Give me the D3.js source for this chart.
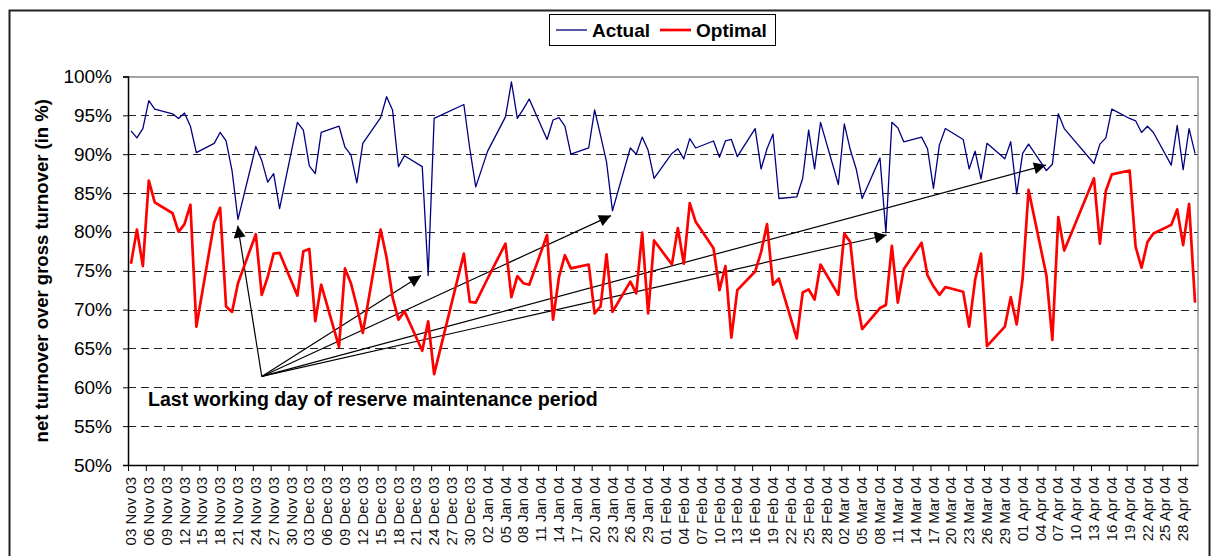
<!DOCTYPE html>
<html>
<head>
<meta charset="utf-8">
<script src="https://cdn.jsdelivr.net/npm/d3@7"></script>
<style>
  body { margin: 0; background: #fff; }
  text { font-family: "Liberation Sans", Arial, sans-serif; }
</style>
</head>
<body>
<script>
// Working days shown in the chart
var dates = [
  "2003-11-03","2003-11-04","2003-11-05","2003-11-06","2003-11-07",
  "2003-11-10","2003-11-11","2003-11-12","2003-11-13","2003-11-14",
  "2003-11-17","2003-11-18","2003-11-19","2003-11-20","2003-11-21",
  "2003-11-24","2003-11-25","2003-11-26","2003-11-27","2003-11-28",
  "2003-12-01","2003-12-02","2003-12-03","2003-12-04","2003-12-05",
  "2003-12-08","2003-12-09","2003-12-10","2003-12-11","2003-12-12",
  "2003-12-15","2003-12-16","2003-12-17","2003-12-18","2003-12-19",
  "2003-12-22","2003-12-23","2003-12-24",
  "2003-12-29","2003-12-30","2003-12-31","2004-01-02",
  "2004-01-05","2004-01-06","2004-01-07","2004-01-08","2004-01-09",
  "2004-01-12","2004-01-13","2004-01-14","2004-01-15","2004-01-16",
  "2004-01-19","2004-01-20","2004-01-21","2004-01-22","2004-01-23",
  "2004-01-26","2004-01-27","2004-01-28","2004-01-29","2004-01-30",
  "2004-02-02","2004-02-03","2004-02-04","2004-02-05","2004-02-06",
  "2004-02-09","2004-02-10","2004-02-11","2004-02-12","2004-02-13",
  "2004-02-16","2004-02-17","2004-02-18","2004-02-19","2004-02-20",
  "2004-02-23","2004-02-24","2004-02-25","2004-02-26","2004-02-27",
  "2004-03-01","2004-03-02","2004-03-03","2004-03-04","2004-03-05",
  "2004-03-08","2004-03-09","2004-03-10","2004-03-11","2004-03-12",
  "2004-03-15","2004-03-16","2004-03-17","2004-03-18","2004-03-19",
  "2004-03-22","2004-03-23","2004-03-24","2004-03-25","2004-03-26",
  "2004-03-29","2004-03-30","2004-03-31","2004-04-01","2004-04-02",
  "2004-04-05","2004-04-06","2004-04-07","2004-04-08",
  "2004-04-13","2004-04-14","2004-04-15","2004-04-16",
  "2004-04-19","2004-04-20","2004-04-21","2004-04-22","2004-04-23",
  "2004-04-26","2004-04-27","2004-04-28","2004-04-29","2004-04-30"
];

// Actual ratio (in %)
var actual = [
  93.0, 92.1, 93.3, 96.9, 95.8,
  95.2, 94.6, 95.3, 93.6, 90.2,
  91.4, 92.8, 91.7, 87.9, 81.6,
  91.0, 89.2, 86.4, 87.5, 83.0,
  94.1, 93.1, 88.5, 87.5, 92.8,
  93.6, 90.9, 89.9, 86.3, 91.4,
  94.7, 97.4, 95.7, 88.4, 89.8,
  88.4, 74.4, 94.6,
  96.4, 90.7, 85.8, 90.4,
  94.8, 99.3, 94.6, 95.8, 97.1,
  91.9, 94.4, 94.7, 93.6, 90.0,
  90.8, 95.7, 92.4, 89.0, 82.7,
  90.8, 90.0, 92.2, 90.5, 86.9,
  90.1, 90.7, 89.4, 92.0, 90.8,
  91.7, 89.6, 91.7, 91.9, 89.7,
  93.3, 88.1, 90.7, 92.6, 84.3,
  84.5, 86.9, 93.1, 88.1, 94.1,
  86.1, 93.9, 90.6, 88.1, 84.3,
  89.5, 79.9, 94.1, 93.4, 91.6,
  92.2, 90.7, 85.6, 91.2, 93.3,
  91.9, 88.1, 90.4, 86.8, 91.4,
  89.4, 91.6, 84.9, 90.1, 91.3,
  87.9, 88.7, 95.2, 93.3,
  88.8, 91.3, 92.1, 95.8,
  94.6, 94.3, 92.8, 93.6, 92.8,
  88.6, 93.7, 88.0, 93.3, 90.1
];

// Optimal ratio (in %)
var optimal = [
  75.9, 80.3, 75.6, 86.6, 83.8,
  82.4, 80.0, 81.0, 83.5, 67.8,
  81.2, 83.1, 70.4, 69.7, 73.4,
  79.7, 71.9, 74.2, 77.2, 77.3,
  71.8, 77.5, 77.8, 68.5, 73.2,
  65.2, 75.3, 73.4, 70.4, 67.0,
  80.3, 76.7, 71.6, 68.7, 69.8,
  64.7, 68.5, 61.7,
  77.2, 71.0, 70.9, 74.0,
  78.5, 71.6, 74.3, 73.4, 73.2,
  79.6, 68.7, 74.2, 77.0, 75.3,
  75.8, 69.5, 70.4, 77.1, 69.7,
  73.6, 72.1, 79.9, 69.5, 78.9,
  75.8, 80.5, 75.9, 83.7, 81.3,
  77.9, 72.5, 75.6, 66.4, 72.5,
  74.9, 77.4, 81.0, 73.2, 74.0,
  66.3, 72.2, 72.6, 71.3, 75.8,
  71.9, 79.8, 78.7, 71.6, 67.5,
  70.2, 70.6, 78.2, 70.9, 75.2,
  78.6, 74.4, 73.0, 71.9, 72.9,
  72.3, 67.8, 73.8, 77.2, 65.3,
  67.8, 71.6, 68.1, 74.0, 85.4,
  74.4, 66.1, 81.9, 77.6,
  86.9, 78.5, 85.3, 87.4,
  87.9, 78.1, 75.4, 78.7, 79.8,
  80.9, 82.9, 78.3, 83.6, 70.9
];

var seriesNames = ["Actual", "Optimal"];
var seriesColors = ["#000080", "#ff0000"];

var yTicks = [0.50, 0.55, 0.60, 0.65, 0.70, 0.75, 0.80, 0.85, 0.90, 0.95, 1.00];

// Annotation: arrows from one point to the end of maintenance periods
var noteText = "Last working day of reserve maintenance period";
var noteOrigin = ["2003-11-25T12:00", 61.4];
var noteTargets = [
  ["2003-11-21T11:00", 80.8],
  ["2003-12-22T07:00", 74.4],
  ["2004-01-23T06:00", 82.1],
  ["2004-03-09T15:00", 79.6],
  ["2004-04-05T10:00", 88.6]
];

var width = 1211;
var height = 556;
var margin = { top: 76.5, right: 13, bottom: 91, left: 128 };

var parse = d3.utcParse("%Y-%m-%d");
var parseT = d3.utcParse("%Y-%m-%dT%H:%M");
var fmt = d3.utcFormat("%d %b %y");

var start = parse("2003-11-03");
var end = parse("2004-05-01");

var x = d3.scaleUtc()
    .domain([start, end])
    .range([margin.left, width - margin.right]);

var y = d3.scaleLinear()
    .domain([0.5, 1.0])
    .range([height - margin.bottom, margin.top]);

// points sit in the middle of their day
var data = dates.map(function (d, i) {
    return { date: d3.utcHour.offset(parse(d), 12), actual: actual[i] / 100, optimal: optimal[i] / 100 };
});

var svg = d3.select("body")
    .append("svg")
    .attr("width", width)
    .attr("height", height);

// outer chart border
svg.append("rect")
    .attr("x", 9.5).attr("y", 10.5)
    .attr("width", 1200).attr("height", 580)
    .attr("fill", "#fff")
    .attr("stroke", "#222")
    .attr("stroke-width", 2);

// dashed gridlines
svg.append("g")
    .selectAll("line")
    .data(yTicks.filter(function (t) { return t > 0.5 && t < 1; }))
    .enter().append("line")
    .attr("x1", margin.left).attr("x2", width - margin.right)
    .attr("y1", function (t) { return Math.round(y(t)) + 0.5; })
    .attr("y2", function (t) { return Math.round(y(t)) + 0.5; })
    .attr("stroke", "#222")
    .attr("stroke-width", 1.2)
    .attr("stroke-dasharray", "8,5");

// plot border top and right
svg.append("path")
    .attr("d", "M" + margin.left + "," + (y(1) + 0.5) + "H" + (width - margin.right) + "V" + y(0.5))
    .attr("fill", "none")
    .attr("stroke", "#888")
    .attr("stroke-width", 1.3);

// y axis
var yAxis = svg.append("g")
    .attr("transform", "translate(" + margin.left + ",0)")
    .call(d3.axisLeft(y).tickValues(yTicks).tickFormat(d3.format(".0%")).tickSize(5).tickPadding(11));
yAxis.selectAll("text")
    .attr("font-size", 19)
    .attr("font-family", "Liberation Sans, Arial, sans-serif")
    .attr("fill", "#000");
yAxis.select(".domain").attr("stroke", "#000").attr("stroke-width", 1.5);

// x axis, tick every 3 days
var xTicks = d3.range(0, 178, 3).map(function (i) { return d3.utcDay.offset(start, i); });
var xAxis = svg.append("g")
    .attr("transform", "translate(0," + y(0.5) + ")")
    .call(d3.axisBottom(x).tickValues(xTicks).tickFormat(fmt).tickSize(6).tickSizeOuter(0));
xAxis.select(".domain").attr("stroke", "#000").attr("stroke-width", 1.5);
xAxis.selectAll("text")
    .attr("font-size", 15)
    .attr("font-family", "Liberation Sans, Arial, sans-serif")
    .attr("fill", "#111")
    .attr("text-anchor", "end")
    .attr("transform", "rotate(-90)")
    .attr("x", -12)
    .attr("y", 7.5)
    .attr("dy", 0);

// y axis title
svg.append("text")
    .attr("transform", "translate(48," + ((y(1) + y(0.5)) / 2) + ") rotate(-90)")
    .attr("text-anchor", "middle")
    .attr("font-size", 18.5)
    .attr("font-weight", "bold")
    .text("net turnover over gross turnover (in %)");

// annotation arrows
var defs = svg.append("defs");
defs.append("marker")
    .attr("id", "head")
    .attr("viewBox", "0 0 10 10")
    .attr("refX", 10).attr("refY", 5)
    .attr("markerWidth", 13).attr("markerHeight", 12)
    .attr("markerUnits", "userSpaceOnUse")
    .attr("orient", "auto")
    .append("path")
    .attr("d", "M0,0L10,5L0,10z")
    .attr("fill", "#000");

svg.append("g")
    .selectAll("line")
    .data(noteTargets)
    .enter().append("line")
    .attr("x1", x(parseT(noteOrigin[0])))
    .attr("y1", y(noteOrigin[1] / 100))
    .attr("x2", function (t) { return x(parseT(t[0])); })
    .attr("y2", function (t) { return y(t[1] / 100); })
    .attr("stroke", "#000")
    .attr("stroke-width", 1.2)
    .attr("marker-end", "url(#head)");

svg.append("text")
    .attr("x", 148)
    .attr("y", 406)
    .attr("font-size", 19.6)
    .attr("font-weight", "bold")
    .text(noteText);

// series lines
var keys = ["actual", "optimal"];
keys.forEach(function (k, i) {
    var line = d3.line()
        .x(function (d) { return x(d.date); })
        .y(function (d) { return y(d[k]); });
    svg.append("path")
        .datum(data)
        .attr("d", line)
        .attr("fill", "none")
        .attr("stroke", seriesColors[i])
        .attr("stroke-width", i === 0 ? 1.3 : 2.7)
        .attr("stroke-linejoin", "round");
});

// legend
var legend = svg.append("g");
legend.append("rect")
    .attr("x", 549.5).attr("y", 14.5)
    .attr("width", 226).attr("height", 31)
    .attr("fill", "#fff")
    .attr("stroke", "#000");

var legendX = [556, 660];
seriesNames.forEach(function (name, i) {
    legend.append("line")
        .attr("x1", legendX[i]).attr("x2", legendX[i] + 31)
        .attr("y1", 30).attr("y2", 30)
        .attr("stroke", seriesColors[i])
        .attr("stroke-width", i === 0 ? 1.3 : 2.7);
    legend.append("text")
        .attr("x", legendX[i] + 36)
        .attr("y", 37)
        .attr("font-size", 19)
        .attr("font-weight", "bold")
        .text(name);
});
</script>
</body>
</html>
